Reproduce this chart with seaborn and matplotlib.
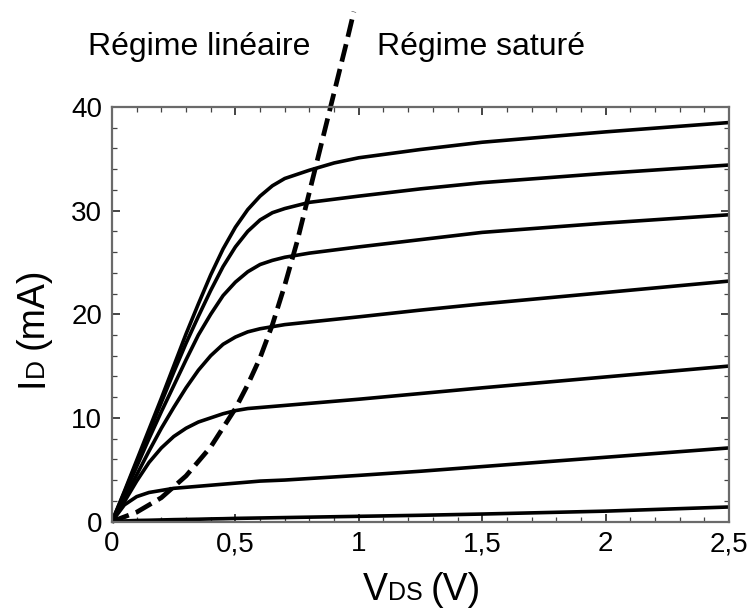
import numpy as np
import pandas as pd
import matplotlib
matplotlib.use("Agg")
import matplotlib.pyplot as plt
from matplotlib import font_manager
from matplotlib.ticker import FixedLocator, MultipleLocator
import seaborn as sns

# ---------------- data ----------------
vds = [0, 0.05, 0.1, 0.15, 0.2, 0.25, 0.3, 0.35, 0.4, 0.45, 0.5, 0.55,
       0.6, 0.65, 0.7, 0.8, 0.9, 1.0, 1.25, 1.5, 2.0, 2.5]

id_vgs1 = [0, 0.05, 0.1, 0.12, 0.15, 0.18, 0.2, 0.22, 0.25, 0.27, 0.3, 0.32,
           0.34, 0.36, 0.38, 0.42, 0.46, 0.5, 0.6, 0.72, 1.0, 1.4]
id_vgs2 = [0, 1.6, 2.4, 2.8, 3.0, 3.2, 3.3, 3.4, 3.5, 3.6, 3.7, 3.8,
           3.9, 3.95, 4.0, 4.15, 4.3, 4.45, 4.85, 5.3, 6.2, 7.1]
id_vgs3 = [0, 1.9, 3.9, 5.7, 7.1, 8.2, 9.0, 9.6, 10.0, 10.4, 10.7, 10.9,
           11.0, 11.1, 11.2, 11.4, 11.6, 11.8, 12.35, 12.9, 13.95, 15.0]
id_vgs4 = [0, 2.2, 4.5, 6.8, 9.0, 11.0, 12.9, 14.6, 16.0, 17.1, 17.8, 18.3,
           18.6, 18.8, 19.0, 19.25, 19.5, 19.75, 20.4, 21.0, 22.1, 23.2]
id_vgs5 = [0, 2.6, 5.3, 8.0, 10.6, 13.1, 15.6, 18.0, 20.0, 21.8, 23.1, 24.1,
           24.8, 25.2, 25.5, 25.9, 26.2, 26.5, 27.2, 27.9, 28.8, 29.6]
id_vgs6 = [0, 2.8, 5.7, 8.6, 11.5, 14.4, 17.2, 19.8, 22.3, 24.6, 26.5, 28.0,
           29.1, 29.8, 30.2, 30.8, 31.1, 31.4, 32.1, 32.7, 33.6, 34.4]
id_vgs7 = [0, 2.9, 5.9, 8.9, 11.9, 15.0, 18.1, 21.0, 23.8, 26.3, 28.4, 30.1,
           31.4, 32.4, 33.1, 33.9, 34.6, 35.1, 35.9, 36.6, 37.6, 38.5]

curves = {"c1": id_vgs1, "c2": id_vgs2, "c3": id_vgs3, "c4": id_vgs4,
          "c5": id_vgs5, "c6": id_vgs6, "c7": id_vgs7}

# boundary linear / saturation (dashed)
sat_vds = [0, 0.1, 0.2, 0.3, 0.4, 0.5, 0.55, 0.6, 0.65, 0.7, 0.75, 0.8,
           0.85, 0.9, 0.95, 0.98]
sat_id = [0, 0.9, 2.3, 4.4, 7.2, 10.9, 13.2, 15.8, 19.0, 22.8, 27.0, 31.8,
          36.6, 41.4, 46.2, 49.2]

xticks = [0, 0.5, 1, 1.5, 2, 2.5]
xticklabels = ["0", "0,5", "1", "1,5", "2", "2,5"]
yticks = [0, 10, 20, 30, 40]
yticklabels = ["0", "10", "20", "30", "40"]

label_left = "Régime linéaire"
label_right = "Régime saturé"

# ---------------- style ----------------
sns.set_style("ticks")
names = {f.name for f in font_manager.fontManager.ttflist}
main_font = "Liberation Sans" if "Liberation Sans" in names else "DejaVu Sans"
tick_font = "Liberation Sans Narrow" if "Liberation Sans Narrow" in names else main_font
plt.rcParams["font.family"] = [main_font, "DejaVu Sans"]
plt.rcParams["text.color"] = "black"

fig = plt.figure(figsize=(7.52, 6.08), dpi=100)
ax = fig.add_axes([112 / 752, 1 - 521.5 / 608, (729 - 112) / 752, (521.5 - 107) / 608])

df = pd.DataFrame([
    {"vds": x, "id": y, "curve": name}
    for name, ys in curves.items() for x, y in zip(vds, ys)
])
sns.lineplot(data=df, x="vds", y="id", hue="curve", palette=["black"] * 7,
             legend=False, linewidth=2.6, sort=False, estimator=None, ax=ax)
for ln in ax.lines:
    ln.set_solid_joinstyle("round")

sns.lineplot(x=sat_vds, y=sat_id, color="black", linewidth=3.4, sort=False,
             estimator=None, ax=ax)
dash_line = ax.lines[-1]
dash_line.set_dashes([3.8, 1.6])
dash_line.set_clip_on(False)

ax.set_xlim(0, 2.5)
ax.set_ylim(0, 40)
ax.xaxis.set_major_locator(FixedLocator(xticks))
ax.set_xticklabels(xticklabels)
ax.yaxis.set_major_locator(FixedLocator(yticks))
ax.set_yticklabels(yticklabels)
ax.xaxis.set_minor_locator(MultipleLocator(0.1))
ax.yaxis.set_minor_locator(MultipleLocator(2))

spine_col = "#6a6a6a"
for s in ax.spines.values():
    s.set_visible(True)
    s.set_color(spine_col)
    s.set_linewidth(1.6)
ax.tick_params(which="both", direction="in", top=True, right=True,
               colors="#444444", labelcolor="black")
ax.tick_params(which="major", length=6, width=1.4, pad=7)
ax.tick_params(which="minor", length=3.5, width=0.9)
for lab in ax.get_xticklabels() + ax.get_yticklabels():
    lab.set_fontfamily([tick_font, "DejaVu Sans"])
    lab.set_fontsize(20)
    lab.set_color("black")
ax.set_xlabel("")
ax.set_ylabel("")

# header texts
fig.text(88 / 752, 1 - 55 / 608, label_left, fontsize=23, ha="left",
         va="baseline", color="black")
fig.text(377 / 752, 1 - 55 / 608, label_right, fontsize=23, ha="left",
         va="baseline", color="black")

# x label: V_DS (V) with small subscript letters on the baseline
tV = fig.text(363 / 752, 1 - 600 / 608, "V", fontsize=27, ha="left",
              va="baseline", color="black")
tDS = ax.annotate("DS", xy=(1, 1 - 600 / 608), xycoords=(tV, "figure fraction"),
                  fontsize=18, ha="left", va="baseline", color="black",
                  annotation_clip=False)
ax.annotate("(V)", xy=(1, 1 - 600 / 608), xycoords=(tDS, "figure fraction"),
            xytext=(6, 0), textcoords="offset points", color="black",
            fontsize=27, ha="left", va="baseline", annotation_clip=False)

# y label: I_D (mA), rotated
yb = 43 / 752
tI = fig.text(yb, 1 - 387 / 608, "I", fontsize=27, rotation=90,
              rotation_mode="anchor", ha="left", va="baseline", color="black")
tD = ax.annotate("D", xy=(yb, 1), xycoords=("figure fraction", tI),
                 fontsize=19, rotation=90, rotation_mode="anchor", color="black",
                 ha="left", va="baseline", annotation_clip=False)
ax.annotate("(mA)", xy=(yb, 1), xycoords=("figure fraction", tD),
            xytext=(0, 6), textcoords="offset points", color="black",
            fontsize=27, rotation=90, rotation_mode="anchor",
            ha="left", va="baseline", annotation_clip=False)

fig.savefig("out.png", dpi=100)
